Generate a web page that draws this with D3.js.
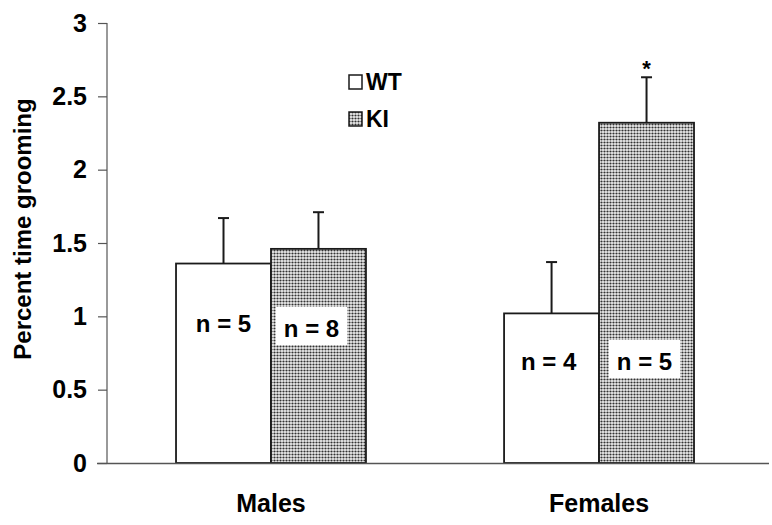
<!DOCTYPE html>
<html>
<head>
<meta charset="utf-8">
<script src="https://cdn.jsdelivr.net/npm/d3@7/dist/d3.min.js"></script>
<style>
  html, body { margin: 0; padding: 0; background: #fff; }
  svg { display: block; }
  text { font-family: "Liberation Sans", Arial, Helvetica, sans-serif; font-weight: bold; fill: #000; }
</style>
</head>
<body>
<svg id="chart" width="772" height="525"></svg>
<script>
// ---- data ----
const categories = ["Males", "Females"];
const series = ["WT", "KI"];
const wtMeans = [1.36, 1.02];
const kiMeans = [1.46, 2.32];
const wtErrors = [0.31, 0.35];
const kiErrors = [0.25, 0.31];
const wtN = ["n = 5", "n = 4"];
const kiN = ["n = 8", "n = 5"];
const kiSignificance = ["", "*"];
const yTicks = [0, 0.5, 1, 1.5, 2, 2.5, 3];
const yTickLabels = ["0", "0.5", "1", "1.5", "2", "2.5", "3"];
const yTitle = "Percent time grooming";

// ---- layout ----
const svg = d3.select("#chart");
const axisX = 107, axisBottom = 463, axisTop = 23;

const y = d3.scaleLinear().domain([0, 3]).range([axisBottom, axisTop]);
const x0 = d3.scaleBand().domain(categories).range([107, 770])
  .paddingInner(0.421).paddingOuter(0.221).align(0.476);
const x1 = d3.scaleBand().domain(series).range([0, x0.bandwidth()]).padding(0);

const rows = [];
categories.forEach((c, i) => {
  rows.push({cat: c, s: "WT", v: wtMeans[i], e: wtErrors[i], n: wtN[i], sig: ""});
  rows.push({cat: c, s: "KI", v: kiMeans[i], e: kiErrors[i], n: kiN[i], sig: kiSignificance[i]});
});

// pattern for KI
const defs = svg.append("defs");
const pat = defs.append("pattern").attr("id", "dots")
  .attr("patternUnits", "userSpaceOnUse").attr("width", 3).attr("height", 3);
pat.append("rect").attr("width", 3).attr("height", 3).attr("fill", "#eeeeee");
pat.append("circle").attr("cx", 1.5).attr("cy", 1.5).attr("r", 1.1).attr("fill", "#333");

const fillFor = s => s === "KI" ? "url(#dots)" : "#fff";

// y axis
const yAxis = d3.axisLeft(y).tickValues(yTicks)
  .tickFormat((d, i) => yTickLabels[i]).tickSize(9).tickPadding(11);
const gy = svg.append("g").attr("transform", `translate(${axisX},0)`).call(yAxis)
  .attr("font-size", "25px").attr("font-family", '"Liberation Sans", Arial, sans-serif');
gy.select(".domain").attr("stroke", "#555").attr("stroke-width", 1.2)
  .attr("d", `M0,${axisTop}V${axisBottom}`);
gy.selectAll(".tick line").attr("stroke", "#555").attr("stroke-width", 1.2);
gy.selectAll(".tick text").style("font-size", "25px")
  .style("font-weight", "bold").attr("fill", "#000");

// bars
const barG = svg.append("g");
barG.selectAll("rect.bar").data(rows).join("rect").attr("class", "bar")
  .attr("x", d => x0(d.cat) + x1(d.s))
  .attr("y", d => y(d.v))
  .attr("width", x1.bandwidth())
  .attr("height", d => y(0) - y(d.v))
  .attr("fill", d => fillFor(d.s))
  .attr("stroke", "#1a1a1a").attr("stroke-width", 1.8);

// error bars
const capHalf = 5.5;
const eb = svg.append("g");
rows.forEach(d => {
  const cx = x0(d.cat) + x1(d.s) + x1.bandwidth() / 2;
  eb.append("line").attr("x1", cx).attr("x2", cx)
    .attr("y1", y(d.v)).attr("y2", y(d.v + d.e))
    .attr("stroke", "#1a1a1a").attr("stroke-width", 2);
  eb.append("line").attr("x1", cx - capHalf).attr("x2", cx + capHalf)
    .attr("y1", y(d.v + d.e)).attr("y2", y(d.v + d.e))
    .attr("stroke", "#1a1a1a").attr("stroke-width", 2);
  if (d.sig) {
    eb.append("text").attr("x", cx).attr("y", y(d.v + d.e) - 1)
      .attr("text-anchor", "middle").style("font-size", "22px").text(d.sig);
  }
});

// x axis line
svg.append("line").attr("x1", 97).attr("x2", 769)
  .attr("y1", y(0) + 0.5).attr("y2", y(0) + 0.5)
  .attr("stroke", "#555").attr("stroke-width", 1.4);

// n labels
const labelBase = {Males: {WT: 332, KI: 337}, Females: {WT: 370, KI: 370}};
const labelShift = {Males: {WT: 0, KI: -7}, Females: {WT: -3, KI: -2}};
const nl = svg.append("g");
rows.forEach(d => {
  const cx = x0(d.cat) + x1(d.s) + x1.bandwidth() / 2 + labelShift[d.cat][d.s];
  const by = labelBase[d.cat][d.s];
  const t = nl.append("text").attr("x", cx).attr("y", by)
    .attr("text-anchor", "middle").style("font-size", "24px").text(d.n);
  if (d.s === "KI") {
    const bb = t.node().getBBox();
    nl.insert("rect", "text").attr("x", cx - bb.width / 2 - 8).attr("y", by - 30)
      .attr("width", bb.width + 16).attr("height", 38).attr("fill", "#fff");
  }
});

// category labels
svg.append("g").selectAll("text").data(categories).join("text")
  .attr("x", d => x0(d) + x0.bandwidth() / 2)
  .attr("y", 512).attr("text-anchor", "middle").style("font-size", "25px")
  .text(d => d);

// y title
svg.append("text").attr("transform", "translate(31,229) rotate(-90)")
  .attr("text-anchor", "middle").style("font-size", "24px").text(yTitle);

// legend
const leg = svg.append("g");
series.forEach((s, i) => {
  const yy = 75 + i * 37;
  leg.append("rect").attr("x", 349).attr("y", yy).attr("width", 13).attr("height", 14)
    .attr("fill", fillFor(s)).attr("stroke", "#1a1a1a").attr("stroke-width", 1.5);
  leg.append("text").attr("x", 366).attr("y", yy + 15).style("font-size", "23px").text(s);
});
</script>
</body>
</html>
